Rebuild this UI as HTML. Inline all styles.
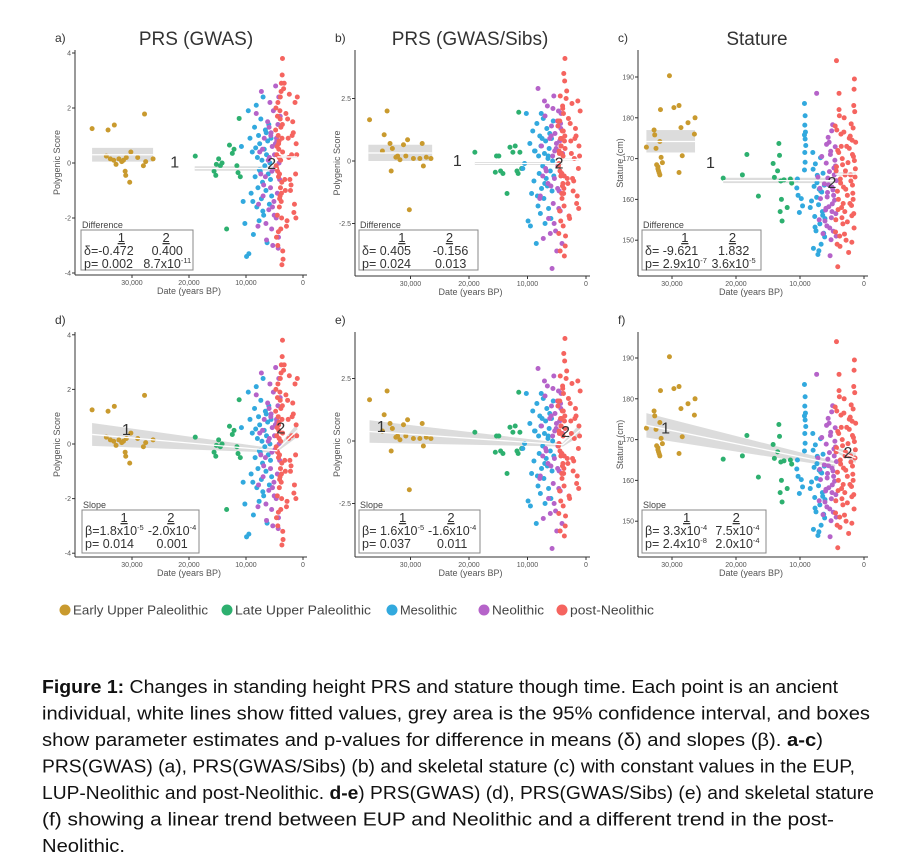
<!DOCTYPE html>
<html><head><meta charset="utf-8"><style>
html,body{margin:0;padding:0;background:#fff;}
svg{display:block;font-family:"Liberation Sans",sans-serif;}
</style></head><body>
<svg id="fig" width="903" height="861" viewBox="0 0 903 861" xmlns="http://www.w3.org/2000/svg"></svg>
<script>
// ---------- data (dates in kyr BP) ----------
const eupXg=[37,34.2,33.1,27.8,34.5,33.8,33.2,32.8,32.3,31.8,31,30.2,31.2,31.1,30.4,29,28,27.6,26.3,31.5];
const eupYg=[1.25,1.2,1.38,1.78,0.25,0.15,0.1,-0.05,0.15,0.05,0.2,0.4,-0.3,-0.45,-0.7,0.2,-0.1,0.05,0.15,0.1];
const lupXg=[18.9,15.2,14.8,14.5,15.6,15.3,14.2,13.4,12.9,12.1,11.6,11.2,11.4,11,12.4];
const lupYg=[0.25,-0.05,0.15,-0.1,-0.3,-0.45,0,-2.4,0.65,0.5,-0.1,1.62,-0.35,-0.5,0.35];
const mesoX=[10.8,10.2,9.9,9.6,9.3,9.1,8.9,8.7,8.5,8.4,8.2,8.1,8.0,7.9,7.8,7.7,7.6,7.5,7.4,7.3,7.2,7.1,7.0,6.9,6.8,6.7,6.6,6.5,6.4,6.3,6.2,6.1,6.0,5.9,5.8,5.7,5.6,5.5,9.5,8.8,8.3,7.65,7.05,6.45,10.5];
const mesoYg=[0.6,-2.2,-3.4,1.9,0.9,-1.1,0.4,-2.6,1.3,-0.5,2.1,-1.6,0.2,-0.9,1.0,-2.1,0.7,-0.3,1.6,-1.3,0.1,-0.7,2.4,-1.9,0.5,-0.1,1.2,-1.0,0.3,-2.9,0.8,-0.4,1.4,-1.5,0.0,-0.6,0.9,-1.2,-3.3,-1.4,0.55,-0.25,-1.75,1.1,-1.4];
const neoX=[8.2,7.9,7.6,7.3,7.0,6.8,6.6,6.4,6.2,6.0,5.9,5.8,5.7,5.6,5.5,5.4,5.3,5.2,5.1,5.0,4.9,4.8,4.7,4.6,4.5,4.4,4.3,4.2,4.1,4.0,7.8,7.1,6.5,5.95,5.45,5.05,4.65,4.25,6.9,6.1,5.35,4.85,4.35,7.4,5.65];
const neoYg=[1.8,-2.3,0.4,2.6,-1.2,0.9,-0.5,-2.8,1.5,-1.7,0.2,2.2,-0.9,1.1,-2.4,0.6,-3.0,1.9,-1.4,0.3,-0.2,2.8,-2.0,0.8,-1.1,1.4,-2.7,0.0,-0.6,1.7,-1.5,0.5,-2.2,1.3,-0.3,-1.9,0.9,2.4,-0.8,0.1,-1.6,0.7,-3.1,-0.4,1.0];
const postX=[3.6,3.7,3.8,3.9,4.0,4.1,4.2,4.3,4.4,4.5,4.6,4.7,4.8,3.55,3.65,3.75,3.85,3.95,4.05,4.15,4.25,4.35,4.45,4.55,4.65,4.75,3.5,3.62,3.78,3.92,3.4,3.2,3.0,2.8,2.6,2.4,2.2,2.0,1.8,1.6,1.4,1.2,1.0,1.3,1.5,1.7,2.1,2.5,2.9,3.3,3.58,3.72,3.88,4.02,4.18,4.32,4.48,4.62,3.68,3.82,3.98,4.12,4.28,4.42,1.1,1.25,1.9,2.3,2.7,3.1];
const postYg=[3.8,-3.7,2.9,-2.4,1.6,-1.3,0.8,-0.5,2.2,-1.9,0.3,-0.1,1.2,-3.2,3.2,-2.0,2.6,-0.9,1.9,-1.6,0.5,1.0,-0.3,0.6,-2.7,2.0,-3.5,1.4,-1.1,0.1,2.7,-0.6,1.8,-2.1,0.9,2.5,-1.0,0.3,1.5,-1.8,2.2,0.7,2.4,-0.4,-1.5,1.1,-0.8,0.2,-2.3,2.9,0.4,-0.7,1.3,-1.2,0.2,-2.5,1.7,-0.2,0.9,-1.4,2.4,-0.4,0.7,-3.0,0.3,-2.0,1.0,-0.6,1.6,-1.0];

const eupXs=[37,34,34.5,33.5,34.8,33.1,33.3,32.5,32.2,31.8,31.2,30.5,30.8,30.2,29.5,28.4,28,27.8,27.3,26.5];
const eupYs=[1.65,2.0,1.05,0.7,0.4,0.5,-0.4,0.15,0.2,0.05,0.65,0.85,0.2,-1.95,0.1,0.1,0.7,-0.2,0.15,0.1];
const lupXs=[19,15.3,14.9,15.5,14.6,14.2,13.5,13,12.5,11.6,11.5,11.3,11,12.1,11.8];
const lupYs=[0.35,0.2,0.2,-0.45,-0.4,-0.5,-1.3,0.55,0.35,-0.5,1.95,0.35,-0.3,0.6,-0.4];
const mesoYs=[-0.3,1.9,-2.4,0.7,-1.3,1.2,-0.8,0.4,-3.3,1.5,-1.8,0.2,-0.5,1.0,-2.1,0.6,-1.1,0.9,-0.2,1.7,-1.5,0.3,-2.5,0.8,-0.7,1.3,-1.0,0.1,-1.9,0.5,1.1,-0.4,-2.3,0.9,-1.2,0.0,1.6,-0.6,-2.6,0.4,-1.4,1.9,-0.9,0.2,-0.1];
const neoYs=[2.9,-1.5,0.6,-3.1,1.8,-0.4,2.2,-2.3,0.9,-1.0,1.4,-4.3,0.2,-1.7,2.6,-0.7,1.1,-2.8,0.5,-3.6,1.6,-0.2,2.0,-1.2,0.8,-2.0,1.3,-0.5,-3.3,0.3,-1.4,2.4,-0.9,1.0,-2.5,0.7,-1.9,1.9,-0.3,-2.9,0.4,-1.1,1.5,-0.6,2.1];
const postYs=[4.1,-3.8,3.5,-2.6,2.2,-1.5,0.9,-0.6,2.6,-2.0,0.4,-0.2,1.4,-3.4,3.2,-1.8,1.9,-0.9,1.2,-1.3,0.6,0.9,-0.4,0.3,-2.9,1.6,-3.0,1.0,-1.1,0.2,2.5,-0.7,1.7,-2.3,0.8,2.3,-1.2,0.1,1.3,-1.7,2.4,0.6,2.0,-0.3,-1.4,1.0,-0.8,0.3,-2.2,2.8,0.5,-0.6,1.2,-1.0,0.3,-2.4,1.6,-0.1,0.8,-1.3,2.1,-0.5,0.6,-3.6,0.2,-1.9,0.9,-0.7,1.5,-0.9];

const eupXh=[34,32.5,32.8,32.7,31.9,31.7,32.2,32.1,32,31.9,32.4,31.8,30.4,29.7,28.9,28.6,28.4,28.9,27.5,26.5,26.4,32.2,31.5];
const eupYh=[172.8,172.5,177,175.8,174.2,170.3,168,167,166.5,166,168.5,182,190.3,182.5,183,177.6,170.7,166.6,178.8,176,180,167.5,169];
const lupXh=[22,18.3,19,16.5,14.2,14,13.5,13.3,13.2,13,13.1,12.8,12.9,12.5,12,11.5,11.3];
const lupYh=[165.2,171,166,160.8,168.8,165.4,167,173.7,170.8,164.5,157,154.7,160,164.8,158,165,164];
const mesoXh=[9.3,9.2,9.25,9.15,9.3,9.2,9.1,9.25,9.2,9.3,10.5,10.3,10.1,10.4,9.8,9.6,8.0,7.9,7.8,7.7,7.6,7.5,7.4,7.3,7.2,7.1,7.0,6.9,6.8,6.7,6.6,6.5,6.4,6.3,6.2,6.1,8.2,7.95,7.65,7.35,7.05,6.75,6.45,6.15,8.4];
const mesoYh=[183.5,180.5,178.2,176.5,175.8,174.8,173.2,171.5,169.1,167.2,162.8,161.0,156.8,165.0,160.2,158.4,171.5,148.0,163.2,155.8,168.7,152.3,160.5,165.9,146.5,158.7,162.5,154.0,170.2,149.0,161.8,157.0,166.4,151.7,163.5,155.3,159.6,167.4,153.2,164.1,147.4,162.0,156.1,150.8,158.0];
const neoXh=[7.4,7.2,7.0,6.8,6.6,6.4,6.2,6.0,5.9,5.8,5.7,5.6,5.5,5.4,5.3,5.2,5.1,5.0,4.9,4.8,4.7,4.6,4.5,4.4,4.3,5.75,5.45,5.15,4.85,4.55,5.95,5.65,5.35,5.05,4.75,4.45,6.1,5.55,5.25,4.95,4.65,4.35,6.9,5.85,5.0];
const neoYh=[186,165.5,155,160.2,170.5,151.6,163.8,157.4,168.9,153.5,161.7,175.2,158.2,166.8,146.2,171.8,155.5,163.0,178.3,152.2,167.7,159.8,172.9,156.5,164.6,160.6,174.0,150.1,162.3,169.6,157.8,165.2,153.0,176.8,161.0,168.2,154.7,163.6,171.0,158.9,166.0,151.0,162.7,173.5,157.0];
const postXh=[4.5,4.4,4.3,4.2,4.1,4.0,3.9,3.8,3.7,3.6,3.5,3.4,3.3,3.2,3.1,3.0,2.9,2.8,2.7,2.6,2.5,2.4,2.3,2.2,2.1,2.0,1.9,1.8,1.7,1.6,1.5,1.4,1.3,4.45,4.35,4.25,4.15,4.05,3.95,3.85,3.75,3.65,3.55,3.45,3.35,3.25,3.15,3.05,2.95,2.85,1.95,1.85,1.75,1.65,1.55,1.45,1.35,2.05,2.15,1.9,1.8,1.7,1.6,1.5,4.3,4.1,3.9,2.6,2.3,1.55];
const postYh=[178,155,168,149,172,160,182,151,165,176,158,170,154,163,180,157,167,150,173,161,169,147,175,159,166,178.5,156,171,160,183,189.5,165.5,174,152,167,177,162,157.5,171.5,180.5,148.5,164,173,155.5,168.5,159,176.5,151.5,166,162.5,158.5,174.5,161.5,170.5,153,181.5,167.5,164.5,175.5,149.5,163.5,177.5,156.5,169.5,194,143.5,186,154.5,172.5,187];

const periodNames=["Early Upper Paleolithic","Late Upper Paleolithic","Mesolithic","Neolithic","post-Neolithic"];
const periodColors=["#C99A2E","#2DB06F","#32A9DE","#B563C9","#F5645F"];
const xTicks=[30,20,10,0];
const xTickLabels=["30,000","20,000","10,000","0"];
const ticksPRS=[-4,-2,0,2,4];
const ticksSibs=[-2.5,0,2.5];
const ticksStat=[150,160,170,180,190];
const constA=[[37,26.3,0.3,0.05,0.55],[19,4.5,-0.2,-0.28,-0.12],[4.5,1,0.22,0.18,0.26]];
const constB=[[37.2,26.3,0.32,0,0.65],[19,4,-0.1,-0.16,-0.04],[4,1.2,0.06,0.02,0.1]];
const constC=[[34,26.4,174.2,171.5,177],[22,4.5,164.6,164.0,165.3],[4.5,1.3,166.2,165.8,166.6]];
const slopeD=[[37,4.5,0.35,-0.25,0.42,0.07],[4.5,1,-0.2,0.5,0.08,0.25]];
const slopeE=[[37,4,0.38,-0.15,0.45,0.07],[4,1,-0.15,0.45,0.08,0.25]];
const slopeF=[[34,4.5,173.5,164.0,3.0,0.7],[4.5,1.3,167.5,165.5,0.6,1.2]];

const NS="http://www.w3.org/2000/svg";
const svg=document.getElementById('fig');
function el(tag,attrs,parent){const e=document.createElementNS(NS,tag);for(const k in attrs)e.setAttribute(k,attrs[k]);(parent||svg).appendChild(e);return e;}

function panel(p){
  const g=el('g',{});
  
  
  const X=v=>p.x0-v*p.ppk, Y=v=>p.y0-(v-p.yBase)*p.ppu;
  const lt=el('text',{x:p.left-20,y:p.top-8,'font-size':12,fill:'#333'},g);lt.textContent=p.letter;
  
  if(p.title){const t=el('text',{x:p.titleX,y:p.top-5,'font-size':19,fill:'#333','text-anchor':'middle'},g);t.textContent=p.title;
    }
  if(p.consts)p.consts.forEach(c=>{
    const b=el('rect',{x:X(c[0]),y:Y(c[4]),width:X(c[1])-X(c[0]),height:Math.max(2,Y(c[3])-Y(c[4])),fill:'#d3d3d3',opacity:0.8},g);
    
  });
  if(p.slopes)p.slopes.forEach(s=>{
    const pts=[[X(s[0]),Y(s[2]+s[4])],[X(s[1]),Y(s[3]+s[5])],[X(s[1]),Y(s[3]-s[5])],[X(s[0]),Y(s[2]-s[4])]];
    const b=el('polygon',{points:pts.map(q=>q.join(',')).join(' '),fill:'#d3d3d3',opacity:0.8},g);
    
  });
  p.series.forEach((s,i)=>{
    const n=Math.min(s[0].length,s[1].length);
    for(let k=0;k<n;k++){
      const c=el('circle',{cx:X(s[0][k]),cy:Y(s[1][k]),r:2.5,fill:periodColors[i]},g);
      
      
    }
  });
  if(p.consts)p.consts.forEach(c=>{const l=el('line',{x1:X(c[0]),x2:X(c[1]),y1:Y(c[2]),y2:Y(c[2]),stroke:'#fff','stroke-width':1.3},g);
    });
  if(p.slopes)p.slopes.forEach(s=>{const l=el('line',{x1:X(s[0]),x2:X(s[1]),y1:Y(s[2]),y2:Y(s[3]),stroke:'#fff','stroke-width':1.3},g);
    });
  p.labels.forEach((L,i)=>{const t=el('text',{x:X(L[0]),y:Y(L[1])+6,'font-size':16,fill:'#333','text-anchor':'middle'},g);t.textContent=String(i+1);
    });
  el('line',{x1:p.left,x2:p.left,y1:p.top,y2:p.bottom,stroke:'#333','stroke-width':1},g);
  el('line',{x1:p.left,x2:p.x0+4,y1:p.bottom,y2:p.bottom,stroke:'#333','stroke-width':1},g);
  p.yTicks.forEach(v=>{const y=Y(v);el('line',{x1:p.left-3,x2:p.left,y1:y,y2:y,stroke:'#333'},g);
    const t=el('text',{x:p.left-4,y:y+2.5,'font-size':7,fill:'#555','text-anchor':'end'},g);t.textContent=String(v);
    });
  xTicks.forEach((v,i)=>{const x=X(v);el('line',{x1:x,x2:x,y1:p.bottom,y2:p.bottom+3,stroke:'#333'},g);
    const t=el('text',{x:x,y:p.bottom+10,'font-size':7,fill:'#555','text-anchor':'middle'},g);t.textContent=xTickLabels[i];
    });
  const xt=el('text',{x:(p.left+p.x0)/2,y:p.bottom+19,'font-size':9,fill:'#555','text-anchor':'middle'},g);xt.textContent='Date (years BP)';
  
  const cy=(p.top+p.bottom)/2, cx=p.left-15;
  const yt=el('text',{x:cx,y:cy,'font-size':9,fill:'#555','text-anchor':'middle',transform:`rotate(-90 ${cx} ${cy})`},g);yt.textContent=p.yTitle;
  
  const bx=p.box;
  const bh=el('text',{x:bx[0]+1,y:bx[1]-2,'font-size':9,fill:'#444'},g);bh.textContent=p.boxTitle;
  
  const r=el('rect',{x:bx[0],y:bx[1],width:bx[2]-bx[0],height:bx[3]-bx[1],fill:'#fff',stroke:'#888','stroke-width':1},g);
  
  const w=bx[2]-bx[0];
  [[0.36,'1'],[0.76,'2']].forEach(h=>{const t=el('text',{x:bx[0]+w*h[0],y:bx[1]+12,'font-size':13,fill:'#333','text-anchor':'middle','text-decoration':'underline'},g);t.textContent=h[1];
    });
  p.rows.forEach((row,i)=>{
    const y=bx[1]+25+i*13;
    const t1=el('text',{x:bx[0]+3,y:y,'font-size':12.5,fill:'#333'},g);t1.innerHTML=row[0];
    
    const t2=el('text',{x:bx[0]+w*0.77,y:y,'font-size':12.5,fill:'#333','text-anchor':'middle'},g);t2.innerHTML=row[1];
    
  });
}
const sup=s=>`<tspan dy="-5" font-size="7.5">${s}</tspan>`;
const sPRS=[[eupXg,eupYg],[lupXg,lupYg],[mesoX,mesoYg],[neoX,neoYg],[postX,postYg]];
const sSibs=[[eupXs,eupYs],[lupXs,lupYs],[mesoX,mesoYs],[neoX,neoYs],[postX,postYs]];
const sStat=[[eupXh,eupYh],[lupXh,lupYh],[mesoXh,mesoYh],[neoXh,neoYh],[postXh,postYh]];

panel({name:'panel-a',letter:'a)',title:'PRS (GWAS)',titleX:196,left:75,top:50,bottom:275,x0:303,ppk:5.7,y0:163,yBase:0,ppu:27.5,yTicks:ticksPRS,yTitle:'Polygenic Score',
  series:sPRS,consts:constA,labels:[[22.5,0.05],[5.5,0]],box:[81,230,193,270],boxTitle:'Difference',
  rows:[['δ=-0.472','0.400'],['p= 0.002','8.7x10'+sup('-11')]]});
panel({name:'panel-b',letter:'b)',title:'PRS (GWAS/Sibs)',titleX:470,left:355,top:50,bottom:276,x0:586,ppk:5.85,y0:161,yBase:0,ppu:25,yTicks:ticksSibs,yTitle:'Polygenic Score',
  series:sSibs,consts:constB,labels:[[22,0.05],[4.6,-0.05]],box:[359,230,478,270],boxTitle:'Difference',
  rows:[['δ= 0.405','-0.156'],['p= 0.024','0.013']]});
panel({name:'panel-c',letter:'c)',title:'Stature',titleX:757,left:638,top:50,bottom:276,x0:864,ppk:6.4,y0:77,yBase:190,ppu:4.08,yTicks:ticksStat,yTitle:'Stature (cm)',
  series:sStat,consts:constC,labels:[[24,169.2],[5,164.3]],box:[642,230,761,270],boxTitle:'Difference',
  rows:[['δ= -9.621','1.832'],['p= 2.9x10'+sup('-7'),'3.6x10'+sup('-5')]]});
panel({name:'panel-d',letter:'d)',title:null,left:75,top:332,bottom:557,x0:303,ppk:5.7,y0:444,yBase:0,ppu:27.3,yTicks:ticksPRS,yTitle:'Polygenic Score',
  series:sPRS,slopes:slopeD,labels:[[31,0.55],[3.9,0.6]],box:[82,510,199,553],boxTitle:'Slope',
  rows:[['β=1.8x10'+sup('-5'),'-2.0x10'+sup('-4')],['p= 0.014','0.001']]});
panel({name:'panel-e',letter:'e)',title:null,left:355,top:332,bottom:557,x0:586,ppk:5.85,y0:441,yBase:0,ppu:25,yTicks:ticksSibs,yTitle:'Polygenic Score',
  series:sSibs,slopes:slopeE,labels:[[35,0.6],[3.5,0.4]],box:[359,510,480,553],boxTitle:'Slope',
  rows:[['β= 1.6x10'+sup('-5'),'-1.6x10'+sup('-4')],['p= 0.037','0.011']]});
panel({name:'panel-f',letter:'f)',title:null,left:638,top:332,bottom:557,x0:864,ppk:6.4,y0:358,yBase:190,ppu:4.08,yTicks:ticksStat,yTitle:'Stature (cm)',
  series:sStat,slopes:slopeF,labels:[[31,173],[2.5,167]],box:[642,510,766,553],boxTitle:'Slope',
  rows:[['β= 3.3x10'+sup('-4'),'7.5x10'+sup('-4')],['p= 2.4x10'+sup('-8'),'2.0x10'+sup('-4')]]});

const legX=[65,227,392,484,562];
const legW=[135,136,57,52,84];
periodNames.forEach((n,i)=>{
  const c=el('circle',{cx:legX[i],cy:610,r:5.5,fill:periodColors[i]});
  
  const t=el('text',{x:legX[i]+8,y:614.5,'font-size':12.5,fill:'#444',textLength:legW[i],lengthAdjust:'spacingAndGlyphs'});t.textContent=n;
  
});
const capLines=[
 ['<tspan font-weight="bold">Figure 1:</tspan> Changes in standing height PRS and stature though time. Each point is an ancient',796],
 ['individual, white lines show fitted values, grey area is the 95% confidence interval, and boxes',828],
 ['show parameter estimates and p-values for difference in means (δ) and slopes (β). <tspan font-weight="bold">a-c</tspan>)',781],
 ['PRS(GWAS) (a), PRS(GWAS/Sibs) (b) and skeletal stature (c) with constant values in the EUP,',813],
 ['LUP-Neolithic and post-Neolithic. <tspan font-weight="bold">d-e</tspan>) PRS(GWAS) (d), PRS(GWAS/Sibs) (e) and skeletal stature',832],
 ['(f) showing a linear trend between EUP and Neolithic and a different trend in the post-',792],
 ['Neolithic.',83]];
capLines.forEach((L,i)=>{
  const t=el('text',{x:42,y:693+i*26.5,'font-size':18.5,fill:'#111',textLength:L[1],lengthAdjust:'spacingAndGlyphs'});
  t.innerHTML=L[0];
  
  
});
</script>
</body></html>
